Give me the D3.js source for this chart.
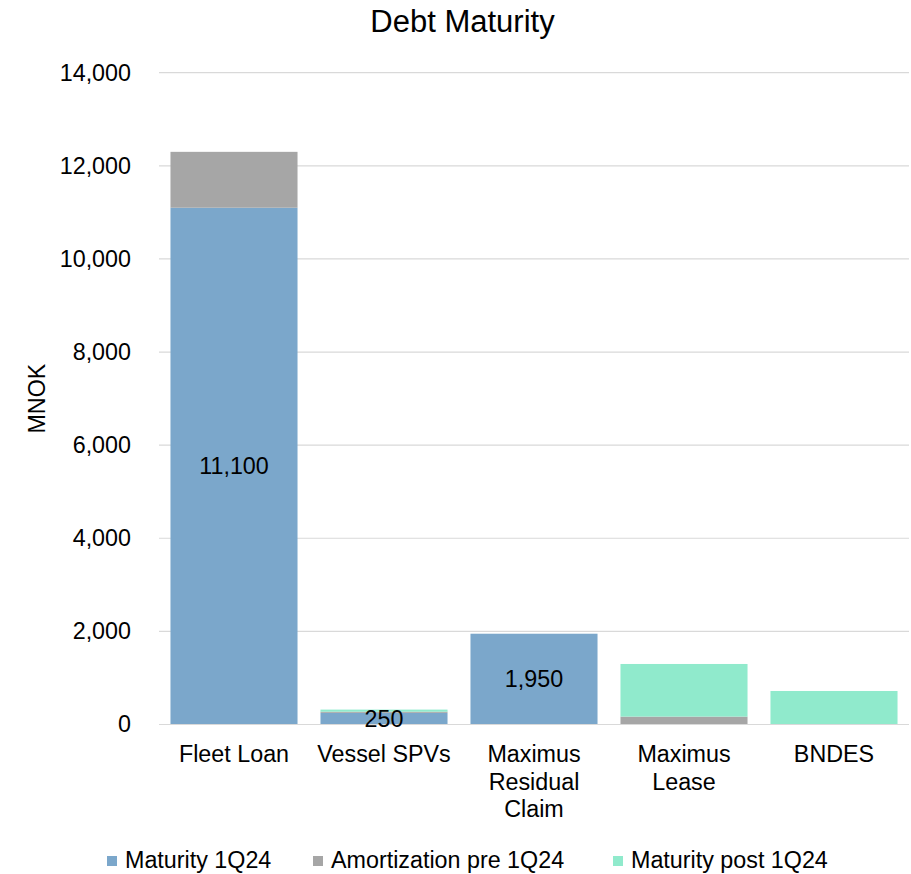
<!DOCTYPE html>
<html>
<head>
<meta charset="utf-8">
<script src="https://cdn.jsdelivr.net/npm/d3@7"></script>
<style>
  html, body { margin: 0; padding: 0; background: #fff; }
  svg { display: block; font-family: "Liberation Sans", Arial, sans-serif; }
</style>
</head>
<body>
<svg id="chart" width="911" height="874"></svg>
<script>
const categories = ["Fleet Loan", "Vessel SPVs", "Maximus Residual Claim", "Maximus Lease", "BNDES"];
const seriesNames = ["Maturity 1Q24", "Amortization pre 1Q24", "Maturity post 1Q24"];
const maturity1Q24 = [11100, 250, 1950, 0, 0];
const amortizationPre1Q24 = [1200, 25, 0, 170, 0];
const maturityPost1Q24 = [0, 45, 0, 1130, 720];
const yTicks = [0, 2000, 4000, 6000, 8000, 10000, 12000, 14000];
const colors = ["#7BA7CB", "#A6A6A6", "#90EACC"];
const titleText = "Debt Maturity";
const yLabel = "MNOK";

const svg = d3.select("#chart");
const margin = { left: 159, right: 2, top: 72.7, bottom: 149.5 };
const W = 911, H = 874;
const x0 = margin.left, x1 = W - margin.right;
const yTop = margin.top, yBot = H - margin.bottom;

const rows = categories.map((c, i) => ({
  cat: c,
  s0: maturity1Q24[i],
  s1: amortizationPre1Q24[i],
  s2: maturityPost1Q24[i]
}));
const keys = ["s0", "s1", "s2"];
const stacked = d3.stack().keys(keys)(rows);

const x = d3.scaleBand().domain(categories).range([x0, x1])
  .paddingInner(0.153).paddingOuter(0.0765);
const y = d3.scaleLinear().domain([0, 14000]).range([yBot, yTop]);

const fs = 23.3;

// gridlines
svg.append("g").selectAll("line").data(yTicks).join("line")
  .attr("x1", x0).attr("x2", x1)
  .attr("y1", d => y(d)).attr("y2", d => y(d))
  .attr("stroke", "#D9D9D9").attr("stroke-width", 1.2);

// y axis labels
const yAxis = d3.axisLeft(y).tickValues(yTicks).tickFormat(d3.format(",")).tickSize(0).tickPadding(0);
const ya = svg.append("g").attr("transform", `translate(${x0 - 28},0)`).call(yAxis);
ya.select(".domain").remove();
ya.selectAll("text").attr("font-size", fs).attr("fill", "#000")
  .attr("font-family", "'Liberation Sans', Arial, sans-serif");

// bars
svg.append("g").selectAll("g").data(stacked).join("g")
  .attr("fill", (d, i) => colors[i])
  .selectAll("rect").data(d => d).join("rect")
  .attr("x", d => x(d.data.cat))
  .attr("width", x.bandwidth())
  .attr("y", d => y(d[1]))
  .attr("height", d => Math.max(0, y(d[0]) - y(d[1])));

// baseline
svg.append("line").attr("x1", x0).attr("x2", x1)
  .attr("y1", y(0)).attr("y2", y(0))
  .attr("stroke", "#D9D9D9").attr("stroke-width", 1.2);

// data labels for first series
svg.append("g").selectAll("text").data(stacked[0].filter(d => d.data.s0 > 0)).join("text")
  .attr("x", d => x(d.data.cat) + x.bandwidth() / 2)
  .attr("y", d => (y(d[0]) + y(d[1])) / 2)
  .attr("dy", "0.35em")
  .attr("text-anchor", "middle")
  .attr("font-size", fs)
  .attr("fill", "#000")
  .text(d => d3.format(",")(d.data.s0));

// x axis labels with wrapping
const xa = svg.append("g");
const maxW = x.step() - 4;
categories.forEach(c => {
  const t = xa.append("text")
    .attr("x", x(c) + x.bandwidth() / 2)
    .attr("y", 762)
    .attr("text-anchor", "middle")
    .attr("font-size", fs)
    .attr("fill", "#000");
  const words = c.split(" ");
  let line = [];
  let lineNo = 0;
  let ts = t.append("tspan").attr("x", x(c) + x.bandwidth() / 2).attr("dy", 0);
  words.forEach(w => {
    line.push(w);
    ts.text(line.join(" "));
    if (ts.node().getComputedTextLength() > maxW && line.length > 1) {
      line.pop();
      ts.text(line.join(" "));
      line = [w];
      lineNo++;
      ts = t.append("tspan").attr("x", x(c) + x.bandwidth() / 2).attr("dy", 27.5).text(w);
    }
  });
});

// title
svg.append("text").attr("x", 462.5).attr("y", 32)
  .attr("text-anchor", "middle").attr("font-size", 31).attr("fill", "#000")
  .text(titleText);

// y label
svg.append("text").attr("transform", `translate(45,${(yTop + yBot) / 2}) rotate(-90)`)
  .attr("text-anchor", "middle").attr("font-size", fs).attr("fill", "#000")
  .text(yLabel);

// legend
const legX = [107, 313, 613];
const leg = svg.append("g");
seriesNames.forEach((n, i) => {
  leg.append("rect").attr("x", legX[i]).attr("y", 856).attr("width", 10).attr("height", 10)
    .attr("fill", colors[i]);
  leg.append("text").attr("x", legX[i] + 18).attr("y", 868)
    .attr("font-size", fs).attr("fill", "#000").text(n);
});
</script>
</body>
</html>
